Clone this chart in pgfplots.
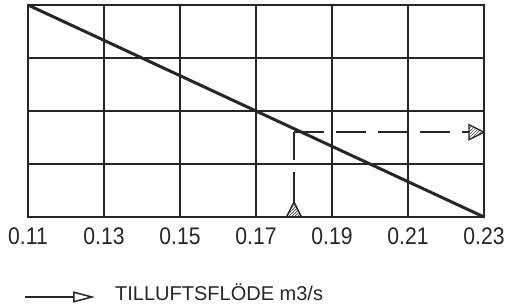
\documentclass[border=0pt]{standalone}
\usepackage{fontspec}
\setmainfont{Liberation Sans}[FakeStretch=0.88]
\newfontfamily\legfont{Liberation Sans}
\usepackage{pgfplots}
\pgfplotsset{compat=1.18}
\usetikzlibrary{arrows.meta,patterns}
\definecolor{ink}{HTML}{262626}
\begin{document}
\begin{tikzpicture}
\path[use as bounding box] (-28bp,-91bp) rectangle (479bp,217bp);
\begin{axis}[
  at={(0,0)}, anchor=south west,
  scale only axis, width=456bp, height=212bp,
  xmin=0.11, xmax=0.23, ymin=0, ymax=4,
  xtick={0.11,0.13,0.15,0.17,0.19,0.21,0.23},
  xticklabels={0.11,0.13,0.15,0.17,0.19,0.21,0.23},
  ytick={0,1,2,3,4}, yticklabels={},
  major tick length=0pt,
  grid=major,
  grid style={ink, line width=1.5bp},
  axis line style={ink, line width=1.6bp},
  /pgf/number format/assume math mode=true,
  xticklabel style={font=\fontsize{24bp}{27bp}\selectfont, anchor=north, inner sep=0pt, yshift=-11bp, text=ink},
  clip=false,
]
% main line
\addplot[ink, line width=3bp] coordinates {(0.11,4) (0.23,0)};
% dashed readout
\addplot[ink, line width=2.2bp, dash pattern=on 30bp off 12bp] coordinates {(0.18,0.283) (0.18,1.6)};
\addplot[ink, line width=2.2bp, dash pattern=on 30bp off 12bp] coordinates {(0.18,1.6) (0.22605,1.6)};
% arrowheads
\addplot[ink, line width=1.4bp, pattern=north east lines, pattern color=ink] coordinates {(0.22605,1.4585) (0.23,1.6) (0.22605,1.7415)} -- cycle;
\addplot[ink, line width=1.4bp, pattern=north east lines, pattern color=ink] coordinates {(0.17803,0) (0.18,0.283) (0.18197,0)} -- cycle;
\end{axis}
\draw[ink, line width=1.5bp, -{Triangle[open, length=22bp, width=11bp, line width=1.5bp]}] (-3bp,-80bp) -- (67bp,-80bp);
\node[anchor=base west, inner sep=0pt, text=ink, font=\legfont\fontsize{20bp}{22bp}\selectfont] at (87bp,-83bp) {TILLUFTSFLÖDE m3/s};
\end{tikzpicture}
\end{document}
